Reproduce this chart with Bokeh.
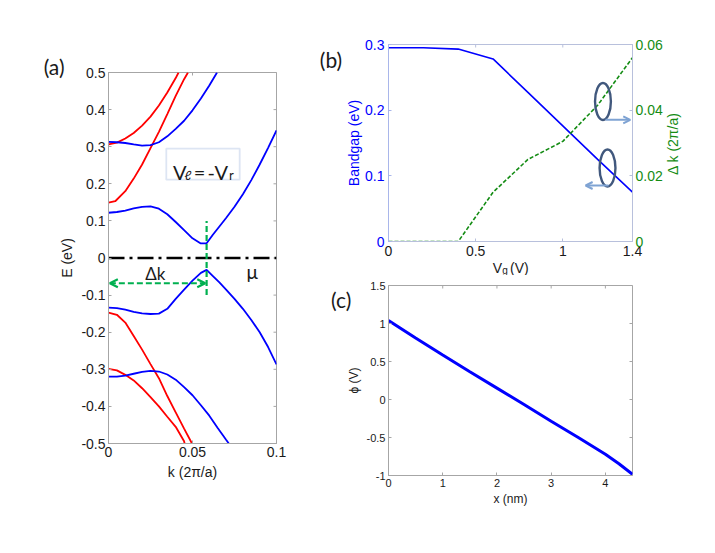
import math
from bokeh.plotting import figure
from bokeh.layouts import row, column
from bokeh.models import (Range1d, LinearAxis, FixedTicker, Arrow, OpenHead,
                          BoxAnnotation, CustomJSTickFormatter)
from bokeh.core.properties import value
from bokeh.embed import file_html
from bokeh.resources import INLINE

# ---------------- Panel (a): band structure ----------------
k_c1 = [0, 0.005, 0.01, 0.015, 0.02, 0.025, 0.03, 0.035, 0.04, 0.045, 0.05, 0.055, 0.06, 0.0646]
E_c1 = [0.313, 0.312, 0.310, 0.306, 0.303, 0.304, 0.312, 0.328, 0.348, 0.370, 0.398, 0.430, 0.465, 0.5]

k_c2 = [0, 0.005, 0.01, 0.015, 0.02, 0.025, 0.03, 0.035, 0.04, 0.045, 0.05, 0.0547, 0.0584,
        0.062, 0.066, 0.07, 0.075, 0.08, 0.085, 0.09, 0.095, 0.1]
E_c2 = [0.122, 0.124, 0.128, 0.134, 0.138, 0.139, 0.133, 0.118, 0.097, 0.075, 0.053, 0.0395, 0.0395,
        0.062, 0.085, 0.108, 0.138, 0.172, 0.210, 0.252, 0.297, 0.344]

k_v1 = [0, 0.005, 0.01, 0.015, 0.02, 0.025, 0.03, 0.035, 0.04, 0.045, 0.05, 0.055, 0.0584,
        0.062, 0.066, 0.07, 0.075, 0.08, 0.085, 0.09, 0.095, 0.1]
E_v1 = [-0.134, -0.135, -0.139, -0.145, -0.149, -0.151, -0.150, -0.137, -0.110, -0.085, -0.061, -0.040, -0.032,
        -0.048, -0.066, -0.085, -0.110, -0.137, -0.167, -0.200, -0.240, -0.287]

k_v2 = [0, 0.005, 0.01, 0.015, 0.02, 0.025, 0.03, 0.035, 0.04, 0.045, 0.05, 0.055, 0.06, 0.065, 0.07, 0.0716]
E_v2 = [-0.320, -0.320, -0.317, -0.312, -0.307, -0.304, -0.306, -0.314, -0.328, -0.348, -0.370, -0.397,
        -0.425, -0.458, -0.490, -0.5]

k_r1 = [0, 0.005, 0.01, 0.015, 0.02, 0.025, 0.03, 0.035, 0.04, 0.0417]
E_r1 = [0.306, 0.311, 0.322, 0.337, 0.357, 0.381, 0.411, 0.446, 0.485, 0.5]

k_r2 = [0, 0.004, 0.01, 0.015, 0.02, 0.025, 0.03, 0.035, 0.04, 0.045, 0.0473]
E_r2 = [0.149, 0.153, 0.180, 0.214, 0.252, 0.296, 0.340, 0.388, 0.437, 0.482, 0.5]

k_r3 = [0, 0.005, 0.01, 0.015, 0.02, 0.025, 0.03, 0.035, 0.04, 0.045, 0.0497]
E_r3 = [-0.147, -0.153, -0.174, -0.210, -0.247, -0.286, -0.324, -0.372, -0.416, -0.460, -0.5]

k_r4 = [0, 0.005, 0.01, 0.015, 0.02, 0.025, 0.03, 0.035, 0.04, 0.045, 0.0453]
E_r4 = [-0.299, -0.303, -0.315, -0.330, -0.351, -0.375, -0.400, -0.428, -0.455, -0.494, -0.5]

k_mu = [0, 0.1]
E_mu = [0, 0]
dk_marker = 0.0584          # k of the band extremum (Delta k)
dk_line_E = [-0.1, 0.1]
dk_arrow_E = -0.068

a_xticks = [0, 0.05, 0.1]
a_yticks = [-0.5, -0.4, -0.3, -0.2, -0.1, 0, 0.1, 0.2, 0.3, 0.4, 0.5]

# ---------------- Panel (b): bandgap and Delta k vs Vg ----------------
vg = [0, 0.2, 0.4, 0.6, 0.8, 1.0, 1.2, 1.4]
bandgap = [0.295, 0.295, 0.293, 0.278, 0.227, 0.176, 0.125, 0.075]
delta_k = [0, 0, 0, 0.015, 0.025, 0.0305, 0.0415, 0.056]
b_xticks = [0, 0.5, 1, 1.4]
b_yticks = [0, 0.1, 0.2, 0.3]
b_y2ticks = [0, 0.02, 0.04, 0.06]

# ---------------- Panel (c): potential ----------------
x_nm = [0, 0.5, 1, 1.5, 2, 2.5, 3, 3.5, 4, 4.25, 4.5]
phi = [1.04, 0.81, 0.585, 0.365, 0.15, -0.065, -0.285, -0.5, -0.72, -0.845, -0.985]
c_xticks = [0, 1, 2, 3, 4]
c_yticks = [-1, -0.5, 0, 0.5, 1, 1.5]

FONT = "Liberation Sans"
LFONT = "Lato"
TXT = "#1a1a1a"
GRAY = "#a6a6a6"
BLUE = "#0000ff"
RED = "#ff0000"
GREEN_A = "#00b050"
GREEN_B = "#148c14"


def fmt():
    return CustomJSTickFormatter(code="return String(tick);")


def cfg_axis(ax, ticks, fs, color=TXT, line=GRAY, standoff=3):
    ax.ticker = FixedTicker(ticks=ticks)
    ax.formatter = fmt()
    ax.axis_line_color = line
    ax.major_tick_line_color = line
    ax.major_tick_in = 3
    ax.major_tick_out = 0
    ax.minor_tick_line_color = None
    ax.major_label_text_font = FONT
    ax.major_label_text_font_size = f"{fs}px"
    ax.major_label_text_color = color
    ax.major_label_standoff = standoff
    ax.axis_label_text_font = FONT
    ax.axis_label_text_font_style = "normal"
    ax.axis_label_text_color = color


def mirror(p, xticks, yticks, top_y, right_x, color=GRAY, right=True):
    # tick marks mirrored on the top / right frame edges (half is clipped by the frame)
    p.scatter(x=xticks, y=[top_y] * len(xticks), marker="dash", angle=math.pi / 2,
              size=6, line_color=color, line_width=1)
    if right:
        p.scatter(x=[right_x] * len(yticks), y=yticks, marker="dash",
                  size=6, line_color=color, line_width=1)


def new_fig(w, h, xr, yr, l, r, t, b):
    p = figure(width=w, height=h, x_range=xr, y_range=yr, output_backend="svg",
               toolbar_location=None, min_border_left=l, min_border_right=r,
               min_border_top=t, min_border_bottom=b)
    p.grid.visible = False
    p.outline_line_color = GRAY
    p.background_fill_color = "white"
    p.border_fill_color = "white"
    return p


def txt(p, x, y, s, font, size, color=TXT, align="left", baseline="alphabetic", angle=0.0):
    p.text(x=[x], y=[y], text=[s], text_font=value(font), text_font_size=value(f"{size}px"),
           text_color=color, text_align=align, text_baseline=baseline, angle=angle,
           level="overlay")


# ================= Figure (a) =================
pa = new_fig(308, 493, Range1d(0, 0.1), Range1d(-0.5, 0.5), 108, 32, 72, 50)
cfg_axis(pa.xaxis[0], a_xticks, 14)
cfg_axis(pa.yaxis[0], a_yticks, 14)
pa.xaxis[0].axis_label = "k (2\u03c0/a)"
pa.xaxis[0].axis_label_text_font_size = "14px"
pa.xaxis[0].axis_label_standoff = 4
pa.yaxis[0].axis_label = "E (eV)"
pa.yaxis[0].axis_label_text_font_size = "14px"
pa.yaxis[0].axis_label_standoff = 3
mirror(pa, a_xticks, a_yticks, 0.5, 0.1)

for kk, ee in [(k_r1, E_r1), (k_r2, E_r2), (k_r3, E_r3), (k_r4, E_r4)]:
    pa.line(kk, ee, line_color=RED, line_width=1.8)
for kk, ee in [(k_c1, E_c1), (k_c2, E_c2), (k_v1, E_v1), (k_v2, E_v2)]:
    pa.line(kk, ee, line_color=BLUE, line_width=1.8)

pa.line(k_mu, E_mu, line_color="black", line_width=2.6, line_dash="16 5 3 5")
pa.line([dk_marker, dk_marker], dk_line_E, line_color=GREEN_A, line_width=2.2, line_dash="6 3")
pa.add_layout(Arrow(start=OpenHead(size=8, line_color=GREEN_A, line_width=2.2),
                    end=OpenHead(size=8, line_color=GREEN_A, line_width=2.2),
                    x_start=0.0008, y_start=dk_arrow_E, x_end=dk_marker - 0.0008, y_end=dk_arrow_E,
                    line_color=GREEN_A, line_width=2.2, line_dash="6 3"))
txt(pa, 0.0279, -0.041, "\u0394k", LFONT, 17, align="center", baseline="middle")
txt(pa, 0.0855, -0.036, "\u03bc", LFONT, 19, align="center")

pa.add_layout(BoxAnnotation(left=0.0344, right=0.0781, bottom=0.211, top=0.295,
                            fill_color="white", fill_alpha=1.0, line_color="#8eaad6", line_width=1.8))
for x, y, t, fs in [(0.0384, 0.2307, "V", 20), (0.0452, 0.2225, "\u2113", 13),
                    (0.0508, 0.2307, "=", 20), (0.0590, 0.2307, "-V", 20), (0.0718, 0.2225, "r", 13)]:
    txt(pa, x, y, t, LFONT, fs)

txt(pa, -0.0324, 0.5167, "(a)", LFONT, 21, align="center", baseline="middle")

# ================= Figure (b) =================
BFRAME = "#b8c0dc"
pb = new_fig(388, 275, Range1d(0, 1.4), Range1d(0, 0.3), 80, 62, 44, 34)
pb.outline_line_color = BFRAME
pb.extra_y_ranges = {"dk": Range1d(0, 0.06)}
cfg_axis(pb.xaxis[0], b_xticks, 14, line=BFRAME, standoff=4)
cfg_axis(pb.yaxis[0], b_yticks, 14, color=BLUE, line="#a9b6ea", standoff=4)
pb.yaxis[0].axis_label = "Bandgap (eV)"
pb.yaxis[0].axis_label_text_font_size = "14px"
pb.yaxis[0].axis_label_standoff = 0
right_b = LinearAxis(y_range_name="dk")
cfg_axis(right_b, b_y2ticks, 14, color=GREEN_B, line=BFRAME, standoff=3)
pb.add_layout(right_b, "right")
mirror(pb, b_xticks, b_yticks, 0.3, 1.4, color=BFRAME, right=False)

pb.line(vg, bandgap, line_color=BLUE, line_width=1.6)
pb.line(vg, delta_k, y_range_name="dk", line_color=GREEN_B, line_width=1.6, line_dash="4 2")

ELL = "#41587d"
pb.ellipse(x=[1.2305, 1.2567], y=[0.2132, 0.1119], width=0.091, height=0.0563,
           fill_color=None, line_color=ELL, line_width=2.4)
ARR = "#7fa3d3"
pb.add_layout(Arrow(end=OpenHead(size=7, line_color=ARR, line_width=2),
                    x_start=1.245, y_start=0.1853, x_end=1.387, y_end=0.1853,
                    line_color=ARR, line_width=2))
pb.add_layout(Arrow(end=OpenHead(size=7, line_color=ARR, line_width=2),
                    x_start=1.263, y_start=0.0853, x_end=1.131, y_end=0.0853,
                    line_color=ARR, line_width=2))

txt(pb, 0.598, -0.040, "V", FONT, 14)
txt(pb, 0.652, -0.0445, "g", FONT, 10)
txt(pb, 0.697, -0.040, "(V)", FONT, 14)
txt(pb, 1.633, 0.149, "\u0394 k (2\u03c0/a)", FONT, 14, color=GREEN_B, align="center",
    baseline="middle", angle=math.pi / 2)
txt(pb, -0.330, 0.277, "(b)", LFONT, 21, align="center", baseline="middle")

# ================= Figure (c) =================
pc = new_fig(388, 250, Range1d(0, 4.5), Range1d(-1, 1.5), 79, 64, 10, 50)
cfg_axis(pc.xaxis[0], c_xticks, 11, standoff=3)
cfg_axis(pc.yaxis[0], c_yticks, 11, standoff=3)
pc.xaxis[0].axis_label = "x (nm)"
pc.xaxis[0].axis_label_text_font_size = "12px"
pc.xaxis[0].axis_label_standoff = 2
pc.yaxis[0].axis_label = "\u03d5 (V)"
pc.yaxis[0].axis_label_text_font_size = "12px"
pc.yaxis[0].axis_label_standoff = 3
mirror(pc, c_xticks, c_yticks, 1.5, 4.5)
pc.line(x_nm, phi, line_color=BLUE, line_width=3)
txt(pc, -0.872, 1.315, "(c)", LFONT, 21, align="center", baseline="middle")

layout = row(pa, column(pb, pc))
open("out.html", "w").write(file_html(layout, INLINE))
